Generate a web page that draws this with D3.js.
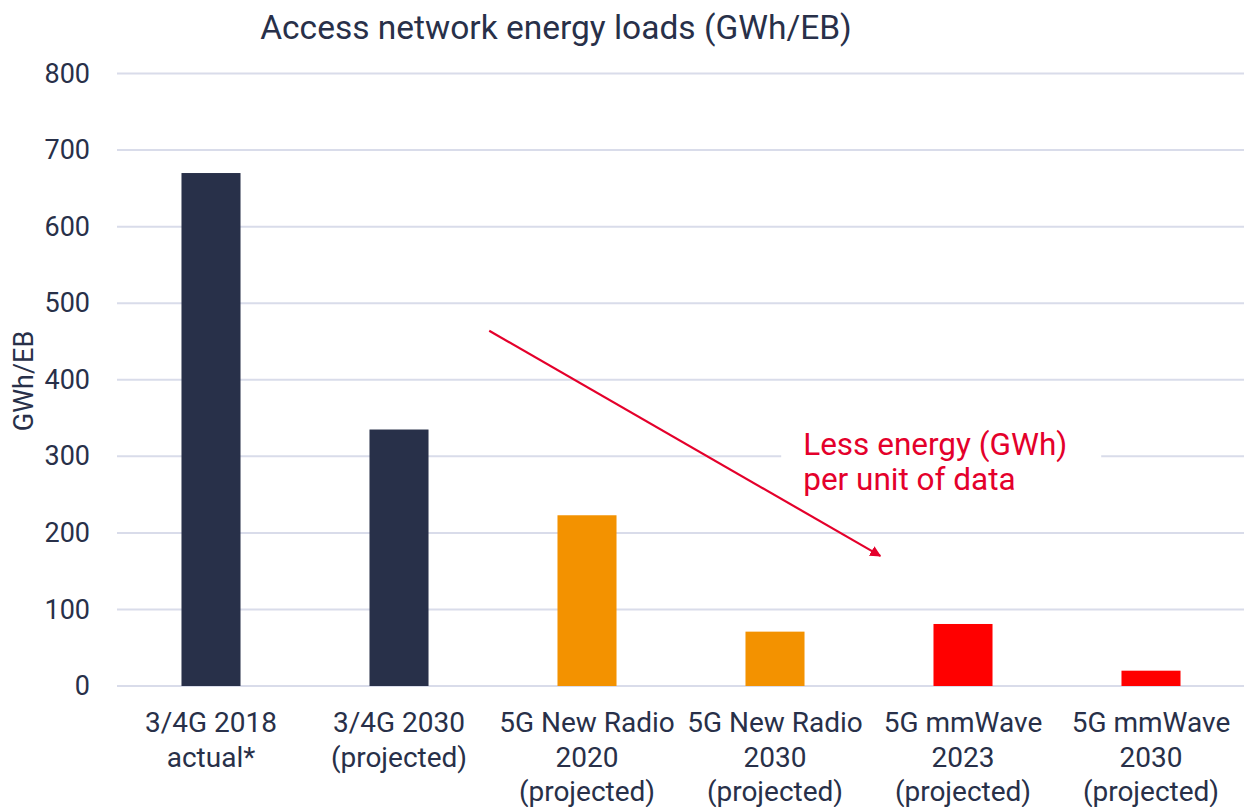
<!DOCTYPE html>
<html><head><meta charset="utf-8">
<script src="https://cdn.jsdelivr.net/npm/d3@7"></script>
<style>
body{margin:0;background:#fff;}
svg text{font-family:Roboto,"Noto Sans",sans-serif;}
</style></head>
<body><svg id="c" width="1244" height="807"></svg>
<script>
const categories = [
  ["3/4G 2018","actual*"],
  ["3/4G 2030","(projected)"],
  ["5G New Radio","2020","(projected)"],
  ["5G New Radio","2030","(projected)"],
  ["5G mmWave","2023","(projected)"],
  ["5G mmWave","2030","(projected)"]
];
const values = [670, 335, 223, 71, 81, 20];
const groups = ["4g","4g","nr","nr","mm","mm"];
const yTicks = [0,100,200,300,400,500,600,700,800];
const title = "Access network energy loads (GWh/EB)";
const yLabel = "GWh/EB";
const annotationLines = ["Less energy (GWh)","per unit of data"];
const arrowFrom = [1.98, 464]; // [category index position, value]
const arrowTo = [4.06, 170];
const annotationAt = [3.65, 302];

const colors = {"4g":"#283049","nr":"#f39200","mm":"#ff0000"};
const textColor = "#283049";
const accent = "#e4002b";

const svg = d3.select("#c");
const mLeft = 117, mRight = 1245, mTop = 73.5, mBottom = 686;

const x = d3.scaleBand().domain(d3.range(categories.length)).range([mLeft,mRight]).paddingInner(0.686).paddingOuter(0.343);
const xi = d3.scaleLinear().domain([0,categories.length]).range([mLeft,mRight]);
const y = d3.scaleLinear().domain([0,800]).range([mBottom,mTop]);

// grid
svg.append("g").selectAll("line").data(yTicks).join("line")
  .attr("x1",mLeft).attr("x2",1244)
  .attr("y1",d=>y(d)).attr("y2",d=>y(d))
  .attr("stroke","#d9dcea").attr("stroke-width",2);

// y axis labels
const yAxis = d3.axisLeft(y).tickValues(yTicks).tickSize(0).tickPadding(0);
const ga = svg.append("g").attr("transform",`translate(90,0)`).call(yAxis);
ga.select(".domain").remove();
ga.selectAll("text").attr("font-size",27).attr("fill",textColor).attr("font-family","Roboto");

// bars
svg.append("g").selectAll("rect").data(values).join("rect")
  .attr("x",(d,i)=>x(i)).attr("width",x.bandwidth())
  .attr("y",d=>y(d)).attr("height",d=>y(0)-y(d))
  .attr("fill",(d,i)=>colors[groups[i]]);

// x labels
const xl = svg.append("g").selectAll("text").data(categories).join("text")
  .attr("text-anchor","middle").attr("font-size",28).attr("fill",textColor)
  .attr("x",(d,i)=>x(i)+x.bandwidth()/2).attr("y",732);
xl.selectAll("tspan").data(d=>d).join("tspan")
  .attr("x",function(){return d3.select(this.parentNode).attr("x");})
  .attr("dy",(d,i)=>i===0?0:34.5).text(d=>d);

// title
svg.append("text").attr("x",556).attr("y",39).attr("text-anchor","middle")
  .attr("font-size",33.5).attr("fill",textColor).text(title);

// y label
svg.append("text").attr("transform","translate(33,381) rotate(-90)")
  .attr("text-anchor","middle").attr("font-size",27).attr("fill",textColor).text(yLabel);

// annotation background + text
const ax = xi(annotationAt[0]), ay = y(annotationAt[1]);
svg.append("rect").attr("x",ax-22).attr("y",ay-34).attr("width",320).attr("height",78).attr("fill","#fff");
svg.append("defs").append("marker").attr("id","ah").attr("viewBox","0 0 10 10")
  .attr("refX",9).attr("refY",5).attr("markerWidth",5).attr("markerHeight",5).attr("orient","auto")
  .append("path").attr("d","M0,0L10,5L0,10z").attr("fill",accent);
svg.append("line")
  .attr("x1",xi(arrowFrom[0])).attr("y1",y(arrowFrom[1]))
  .attr("x2",xi(arrowTo[0])).attr("y2",y(arrowTo[1]))
  .attr("stroke",accent).attr("stroke-width",2.2).attr("marker-end","url(#ah)");
svg.append("g").selectAll("text").data(annotationLines).join("text")
  .attr("x",ax).attr("y",(d,i)=>ay+i*35).attr("font-size",31.5).attr("fill",accent).text(d=>d);
</script></body></html>
